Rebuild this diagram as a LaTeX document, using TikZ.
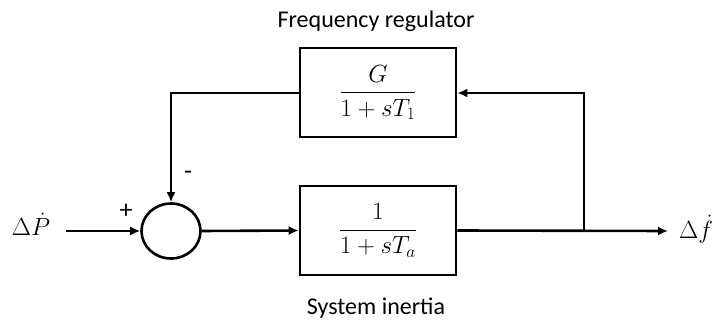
\documentclass[tikz,border=0pt]{standalone}
\usepackage{amsmath}
\usepackage{fontspec}
\setmainfont{Carlito}
\usetikzlibrary{arrows.meta,shapes.geometric}
\begin{document}
\begin{tikzpicture}[x=1pt,y=-1pt,
  line width=2.6pt,
  arr/.style={-{Latex[length=10pt,width=9pt]}},
  blk/.style={draw,minimum width=156pt,minimum height=89pt,inner sep=0pt,font=\fontsize{23.5}{28}\selectfont},
  lbl/.style={font=\fontsize{24}{28}\selectfont,inner sep=0pt},
  mth/.style={font=\fontsize{25}{30}\selectfont,inner sep=0pt},
  sgn/.style={font=\fontsize{26}{30}\selectfont,inner sep=0pt}]
\useasboundingbox (0,0) rectangle (714,320);
\node[blk] (reg) at (378,92.5) {$\dfrac{G}{1+sT_1}$};
\node[blk] (sys) at (378,230.5) {$\dfrac{1}{1+sT_a}$};
\node[draw,ellipse,minimum width=59pt,minimum height=55pt,inner sep=0pt] (sum) at (171,231) {};
\node[mth] (in) at (31,224) {$\Delta\dot{P}$};
\node[mth] (out) at (696,229) {$\Delta\dot{f}$};
\node[lbl] (tregl) at (376,21) {Frequency regulator};
\node[lbl] (tsys) at (376,308) {System inertia};
\node[sgn] (plus) at (126,211) {+};
\node[sgn] (minus) at (188,175) {-};
\coordinate (inst) at (66,231);
\coordinate (outend) at (668,231);
\coordinate (br) at (584,231);
\coordinate (tr) at (584,93);
\coordinate (tl) at (171,93);
\draw[arr] (inst) -- (sum.west);
\draw[arr] (sum.east) -- (sys.west);
\draw[arr] (sys.east) -- (outend);
\draw[arr] (br) -- (tr) -- (reg.east |- tr);
\draw[arr] (reg.west |- tl) -- (tl) -- (sum.north);
\end{tikzpicture}
\end{document}
